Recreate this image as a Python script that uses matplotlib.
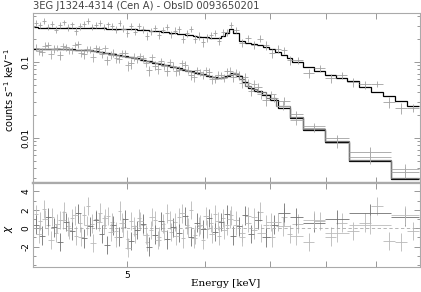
import numpy as np
import matplotlib
matplotlib.use("Agg")
import matplotlib.pyplot as plt
from matplotlib.ticker import FixedLocator, NullFormatter, LogLocator

# pn spectrum (upper curve): bin edges [keV], model [counts/s/keV], residuals [chi], errors [%]
pn_edges = [4.009, 4.047, 4.085, 4.123, 4.162, 4.202, 4.241, 4.282, 4.322, 4.363,
            4.404, 4.446, 4.488, 4.530, 4.573, 4.616, 4.660, 4.704, 4.748, 4.793,
            4.838, 4.884, 4.930, 4.977, 5.024, 5.071, 5.119, 5.167, 5.216, 5.265,
            5.315, 5.365, 5.416, 5.467, 5.519, 5.571, 5.623, 5.676, 5.730, 5.784,
            5.839, 5.894, 5.949, 6.006, 6.062, 6.119, 6.177, 6.236, 6.294, 6.354,
            6.414, 6.505, 6.597, 6.691, 6.786, 6.882, 6.980, 7.079, 7.179, 7.281,
            7.384, 7.578, 7.777, 7.981, 8.190, 8.404, 8.645, 8.891, 9.146, 9.408,
            9.676, 9.953]
pn_model = [0.284, 0.283, 0.283, 0.282, 0.282, 0.281, 0.281, 0.280, 0.280, 0.280,
            0.279, 0.279, 0.278, 0.278, 0.277, 0.277, 0.276, 0.276, 0.275, 0.275,
            0.274, 0.273, 0.272, 0.271, 0.269, 0.267, 0.265, 0.262, 0.260, 0.257,
            0.255, 0.252, 0.249, 0.246, 0.242, 0.239, 0.235, 0.231, 0.227, 0.223,
            0.219, 0.215, 0.212, 0.210, 0.208, 0.207, 0.209, 0.217, 0.238, 0.268,
            0.241, 0.189, 0.178, 0.173, 0.167, 0.158, 0.148, 0.135, 0.124, 0.113,
            0.100, 0.085, 0.075, 0.068, 0.062, 0.056, 0.047, 0.040, 0.036, 0.031,
            0.026]
pn_chi = [1.5, 0.8, 2.1, 0.3, 1.2, -0.5, 0.9, 1.8, 0.2, 1.1,
          -0.8, 0.6, 1.4, 2.4, 0.5, 1.0, 1.7, 0.4, 1.3, 0.7,
          -0.3, 1.9, 0.1, -1.2, 0.8, -0.6, 1.1, 0.3, -1.5, -0.2,
          0.9, -0.9, 0.5, 1.6, -0.4, 0.7, 1.2, -1.1, 0.4, 2.0,
          -0.7, 0.2, -1.3, -0.1, 0.6, 1.5, -0.8, 1.1, 0.3, 1.4,
          0.9, -0.5, 1.3, -0.2, 1.8, 0.4, -1.0, 0.7, 1.2, -0.6,
          0.5, -1.5, 0.8, -0.9, 0.6, -0.3, 0.6, 2.4, -1.4, -1.5,
          -0.3]
pn_err = [10, 10, 11, 10, 10, 10, 11, 10, 10, 10,
          10, 11, 10, 10, 10, 10, 11, 10, 10, 10,
          10, 10, 11, 10, 11, 10, 11, 10, 10, 11,
          11, 11, 10, 11, 11, 11, 12, 11, 11, 11,
          11, 12, 11, 11, 12, 11, 11, 12, 11, 10,
          11, 12, 12, 12, 12, 13, 12, 13, 13, 12,
          11, 11, 12, 12, 12, 12, 13, 12, 13, 13,
          12]

# MOS1 spectrum (lower curve)
mos1_edges = [3.999, 4.056, 4.113, 4.172, 4.231, 4.291, 4.352, 4.414, 4.476, 4.540,
              4.604, 4.670, 4.736, 4.803, 4.871, 4.941, 5.012, 5.083, 5.155, 5.228,
              5.303, 5.378, 5.454, 5.532, 5.610, 5.690, 5.771, 5.853, 5.936, 6.020,
              6.106, 6.193, 6.281, 6.370, 6.461, 6.552, 6.646, 6.740, 6.867, 6.997,
              7.129, 7.333, 7.561, 7.981, 8.444, 9.319, 9.953]
mos1_model = [0.148, 0.148, 0.148, 0.147, 0.147, 0.146, 0.146, 0.145, 0.144, 0.142,
              0.139, 0.135, 0.131, 0.127, 0.123, 0.119, 0.115, 0.111, 0.106, 0.102,
              0.098, 0.094, 0.090, 0.087, 0.083, 0.079, 0.076, 0.072, 0.069, 0.066,
              0.063, 0.062, 0.065, 0.071, 0.065, 0.054, 0.045, 0.042, 0.037, 0.032,
              0.025, 0.0185, 0.0127, 0.0089, 0.0050, 0.0029]
mos1_chi = [0.4, -0.8, 1.2, 0.1, -1.5, 0.7, -0.3, 1.6, -1.1, 0.2,
            0.9, -0.6, -1.8, 0.3, -0.9, 1.0, -1.4, -0.2, 0.5, -2.0,
            -0.7, 0.8, -1.2, 0.1, -0.5, 1.3, -0.9, 0.6, -0.1, 1.1,
            -0.4, 0.7, 1.5, -0.8, 0.2, 1.4, -0.6, 0.9, -1.0, 0.4,
            1.7, 1.2, 0.6, 1.0, 1.6, 1.2]
mos1_err = [11, 11, 10, 11, 11, 11, 10, 11, 11, 11,
            11, 11, 11, 12, 11, 11, 12, 11, 12, 12,
            12, 12, 12, 12, 12, 13, 12, 12, 13, 12,
            12, 12, 12, 13, 13, 13, 13, 13, 14, 13,
            14, 11, 11, 12, 20, 20]

# MOS2 spectrum (lower curve, second camera)
mos2_edges = [4.027, 4.084, 4.142, 4.201, 4.261, 4.321, 4.383, 4.445, 4.508, 4.572,
              4.637, 4.703, 4.770, 4.838, 4.906, 4.976, 5.047, 5.118, 5.191, 5.265,
              5.340, 5.416, 5.493, 5.571, 5.650, 5.730, 5.812, 5.894, 5.978, 6.063,
              6.149, 6.237, 6.325, 6.415, 6.506, 6.599, 6.692, 6.787, 6.931, 7.096,
              7.333, 7.561, 7.981, 8.444, 9.319, 9.953]
mos2_model = [0.148, 0.148, 0.147, 0.147, 0.146, 0.146, 0.145, 0.145, 0.143, 0.141,
              0.137, 0.133, 0.129, 0.125, 0.121, 0.117, 0.113, 0.108, 0.104, 0.100,
              0.096, 0.092, 0.089, 0.085, 0.081, 0.077, 0.074, 0.070, 0.067, 0.064,
              0.062, 0.063, 0.068, 0.069, 0.060, 0.049, 0.044, 0.040, 0.034, 0.026,
              0.0190, 0.0130, 0.0091, 0.0052, 0.0030]
mos2_chi = [-0.6, 1.0, -1.3, 0.5, 0.9, -0.2, 1.4, -0.9, 0.3, -1.6,
            0.7, 1.1, -0.4, -1.0, 0.6, -2.1, 0.2, 0.8, -0.7, 1.2,
            -1.3, -0.3, 0.9, -0.8, 1.6, 0.1, -1.1, 0.4, 1.3, -0.6,
            0.8, -0.2, 1.0, 0.3, -0.9, 0.6, 1.2, -0.5, 0.7, 0.2,
            -0.8, 0.9, -0.5, 0.4, 1.4]
mos2_err = [11, 11, 11, 10, 11, 11, 11, 11, 11, 11,
            11, 12, 11, 11, 12, 11, 12, 12, 11, 12,
            12, 12, 12, 13, 12, 12, 13, 12, 12, 13,
            12, 12, 13, 13, 13, 13, 14, 13, 14, 14,
            12, 12, 13, 21, 21]

title = "3EG J1324-4314 (Cen A) - ObsID 0093650201"

W, H = 421, 292
fig = plt.figure(figsize=(W / 100, H / 100), dpi=100)
ax1 = fig.add_axes([33 / W, 1 - 183 / H, (420 - 33) / W, (183 - 13) / H])
ax2 = fig.add_axes([33 / W, 1 - 267 / H, (420 - 33) / W, (267 - 183) / H], sharex=ax1)

spine_c = "#aaaaaa"
tick_font = dict(family="DejaVu Sans", size=6.5)


def spectrum(edges, model, chi, err):
    edges = np.array(edges)
    model = np.array(model)
    sig = model * np.array(err) / 100.0
    data = model + np.array(chi) * sig
    cen = np.sqrt(edges[:-1] * edges[1:])
    xerr = [cen - edges[:-1], edges[1:] - cen]
    return edges, model, data, sig, cen, xerr


sets = [
    (pn_edges, pn_model, pn_chi, pn_err, "#a0a0a0", "#b8b8b8", "black"),
    (mos1_edges, mos1_model, mos1_chi, mos1_err, "#a0a0a0", "#707070", "black"),
    (mos2_edges, mos2_model, mos2_chi, mos2_err, "#a8a8a8", "#bbbbbb", "#777777"),
]
for edges, model, chi, err, dcol, rcol, mcol in sets:
    e, m, d, s, c, xe = spectrum(edges, model, chi, err)
    ax1.errorbar(c, d, yerr=s, xerr=xe, fmt="none", ecolor=dcol, elinewidth=0.6)
    ax1.stairs(m, e, baseline=None, color=mcol, lw=0.9)
    ax2.errorbar(c, chi, yerr=1.0, xerr=xe, fmt="none", ecolor=rcol, elinewidth=0.6)

ax2.axhline(0, color="#aaaaaa", lw=0.6, ls=(0, (4, 3)))

for ax in (ax1, ax2):
    ax.set_xscale("log")
    ax.set_xlim(4.0, 9.98)
    for sp in ax.spines.values():
        sp.set_color(spine_c)
        sp.set_linewidth(0.8)
    ax.tick_params(which="both", direction="in", top=True, right=True,
                   color="#888888", width=0.6)
    ax.tick_params(which="major", length=4)
    ax.tick_params(which="minor", length=2)
    ax.xaxis.set_major_locator(FixedLocator([5, 6, 7, 8, 9]))
    ax.xaxis.set_minor_locator(FixedLocator([]))
    ax.xaxis.set_minor_formatter(NullFormatter())

ax1.spines["bottom"].set_linewidth(1.6)
ax2.spines["top"].set_linewidth(1.6)

ax1.set_yscale("log")
ax1.set_ylim(0.00256, 0.44)
ax1.yaxis.set_major_locator(FixedLocator([0.01, 0.1]))
ax1.yaxis.set_minor_locator(LogLocator(base=10, subs=np.arange(2, 10)))
ax1.yaxis.set_minor_formatter(NullFormatter())
ax1.set_yticklabels(["0.01", "0.1"], rotation=90, va="center", **tick_font)
ax1.tick_params(axis="x", labelbottom=False)
ax1.tick_params(axis="y", pad=2)

ax2.set_ylim(-4.2, 4.9)
ax2.yaxis.set_major_locator(FixedLocator([-2, 0, 2, 4]))
ax2.yaxis.set_minor_locator(FixedLocator([-4, -3, -1, 1, 3]))
ax2.set_yticklabels(["-2", "0", "2", "4"], rotation=90, va="center", **tick_font)
ax2.set_xticklabels(["5", "", "", "", ""], **tick_font)
ax2.tick_params(axis="y", pad=2)
ax2.tick_params(axis="x", pad=3)

fig.text(33 / W, 1 - 6 / H, title, ha="left", va="center",
         family="DejaVu Sans", size=7.2, color="#444444")
fig.text(9 / W, 1 - 90 / H, r"counts s$^{-1}$ keV$^{-1}$", rotation=90,
         ha="center", va="center", family="DejaVu Sans", size=7)
fig.text(9 / W, 1 - 229 / H, r"$\chi$", rotation=90, ha="center", va="center", size=7.5)
fig.text(226 / W, 1 - 283 / H, "Energy [keV]", ha="center", va="center",
         family="DejaVu Serif", size=7.5)

fig.savefig("out.png", dpi=100)
